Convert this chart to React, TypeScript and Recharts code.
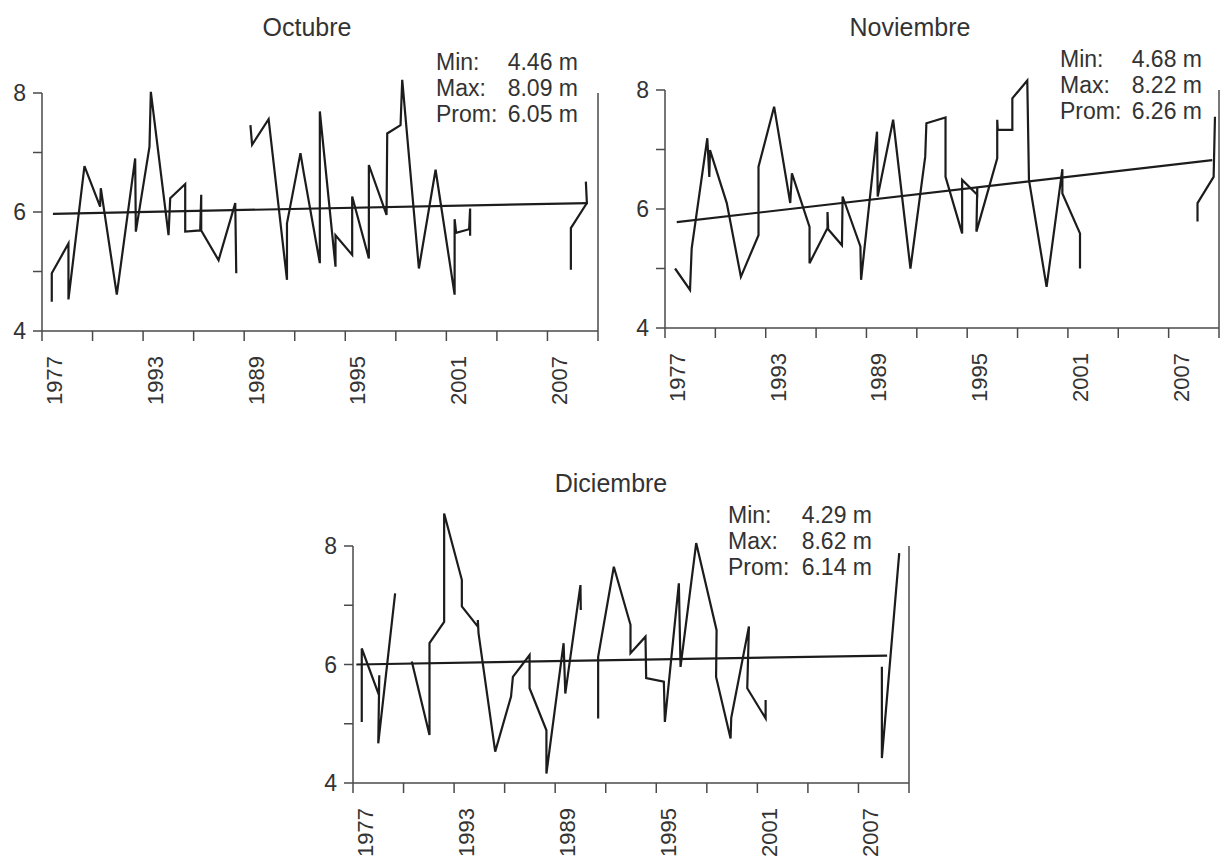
import { Line, LineChart, ReferenceLine, XAxis, YAxis } from "recharts";

const INK = "#1c1c1c";
const AXIS = "#4a4a4a";
const TEXT = "#333";
const FONT = "'Liberation Sans', Arial, Helvetica, sans-serif";

// x axis: one tick every 3 years, label every 6 (labels copied as printed)
const X_TICKS = [1977, 1980, 1983, 1986, 1989, 1992, 1995, 1998, 2001, 2004, 2007, 2010];
const X_LABEL_AT = [1977, 1983, 1989, 1995, 2001, 2007];
const X_LABELS = ["1977", "1993", "1989", "1995", "2001", "2007"];
const Y_TICKS = [4, 5, 6, 7, 8];

// [year, level m]; null = gap in record
const OCT_POINTS: [number, number | null][] = [
  [1977.58, 4.49], [1977.58, 4.97], [1978.57, 5.47], [1978.57, 4.53], [1979.52, 6.77], [1980.45, 6.09],
  [1980.49, 6.4], [1981.44, 4.61], [1982.53, 6.9], [1982.57, 5.67], [1983.38, 7.1], [1983.46, 8.02],
  [1984.51, 5.61], [1984.61, 6.23], [1985.5, 6.47], [1985.5, 5.67], [1986.39, 5.69], [1986.45, 6.29],
  [1986.45, 5.69], [1987.48, 5.19], [1988.47, 6.15], [1988.53, 4.97], [1989.0, null],
  [1989.37, 7.46], [1989.47, 7.13], [1990.45, 7.56], [1991.54, 4.86], [1991.54, 5.81], [1992.34, 6.99],
  [1992.54, 6.65], [1993.49, 5.14], [1993.49, 7.69], [1994.42, 5.08], [1994.42, 5.61], [1995.41, 5.28],
  [1995.41, 6.26], [1996.4, 5.22], [1996.4, 6.79], [1997.45, 5.95], [1997.49, 7.32], [1998.28, 7.46],
  [1998.38, 8.22], [1999.37, 5.05], [2000.36, 6.71], [2001.49, 4.61], [2001.49, 5.88], [2001.58, 5.65],
  [2002.35, 5.71], [2002.41, 6.06], [2002.41, 5.6], [2005.0, null],
  [2008.39, 5.03], [2008.39, 5.73], [2009.34, 6.15], [2009.28, 6.51],
];
const OCT_TREND: [number, number][] = [[1977.65, 5.97], [2009.4, 6.15]];
const OCT_STATS = ["4.46 m", "8.09 m", "6.05 m"];

const NOV_POINTS: [number, number | null][] = [
  [1977.6, 5.0], [1978.49, 4.64], [1978.59, 5.34], [1979.52, 7.19], [1979.64, 6.54], [1979.68, 6.99],
  [1980.68, 6.1], [1981.52, 4.86], [1982.57, 5.56], [1982.57, 6.71], [1983.5, 7.72], [1984.46, 6.1],
  [1984.56, 6.6], [1985.61, 5.7], [1985.61, 5.09], [1986.68, 5.68], [1986.68, 5.95], [1986.72, 5.66],
  [1987.54, 5.39], [1987.58, 6.21], [1988.64, 5.37], [1988.68, 4.81], [1989.63, 7.3], [1989.67, 6.21],
  [1990.59, 7.5], [1991.62, 5.0], [1992.5, 6.88], [1992.57, 7.44], [1993.71, 7.54], [1993.71, 6.54],
  [1994.7, 5.59], [1994.7, 6.49], [1995.6, 6.24], [1995.6, 6.36], [1995.55, 5.62], [1996.79, 6.85],
  [1996.79, 7.5], [1996.82, 7.33], [1997.69, 7.33], [1997.69, 7.86], [1998.58, 8.16], [1998.68, 6.49],
  [1999.73, 4.69], [2000.67, 6.67], [2000.67, 6.26], [2001.72, 5.59], [2001.72, 5.0], [2005.0, null],
  [2008.72, 5.79], [2008.72, 6.1], [2009.68, 6.54], [2009.76, 7.55],
];
const NOV_TREND: [number, number][] = [[1977.7, 5.78], [2009.6, 6.82]];
const NOV_STATS = ["4.68 m", "8.22 m", "6.26 m"];

const DEC_POINTS: [number, number | null][] = [
  [1977.52, 5.03], [1977.52, 6.27], [1978.53, 5.49], [1978.56, 5.82], [1978.5, 4.67], [1979.5, 7.2],
  [1980.0, null],
  [1980.49, 6.05], [1981.54, 4.81], [1981.54, 6.36], [1982.41, 6.72], [1982.41, 8.55], [1983.46, 7.43],
  [1983.46, 6.98], [1984.41, 6.64], [1984.41, 6.75], [1984.45, 6.53], [1985.44, 4.53], [1986.38, 5.46],
  [1986.49, 5.79], [1987.48, 6.16], [1987.48, 5.6], [1988.48, 4.89], [1988.48, 4.16], [1989.5, 6.36],
  [1989.6, 5.51], [1990.5, 7.34], [1990.52, 6.92], [1991.0, null],
  [1991.55, 5.09], [1991.55, 6.13], [1992.48, 7.65], [1993.47, 6.67], [1993.47, 6.19], [1994.36, 6.47],
  [1994.4, 5.77], [1995.45, 5.71], [1995.51, 5.03], [1996.34, 7.37], [1996.44, 5.96], [1997.37, 8.05],
  [1998.58, 6.58], [1998.55, 5.79], [1999.41, 4.75], [1999.45, 5.1], [2000.5, 6.64], [2000.4, 5.6],
  [2001.49, 5.09], [2001.49, 5.4], [2005.0, null],
  [2008.39, 5.96], [2008.39, 4.42], [2009.42, 7.88],
];
const DEC_TREND: [number, number][] = [[1977.2, 6.0], [2008.7, 6.15]];
const DEC_STATS = ["4.29 m", "8.62 m", "6.14 m"];

const STAT_NAMES = ["Min:", "Max:", "Prom:"];

type Box = { x0: number; x1: number; y8: number; y4: number; titleX: number; titleY: number; statL: number; statR: number };

const YearTick = (props: any) => {
  const { x, y, payload } = props;
  const i = X_LABEL_AT.indexOf(payload.value);
  if (i < 0) return <g />;
  const tx = x + 20;
  const ty = y + 13;
  return (
    <text x={tx} y={ty} transform={`rotate(-90 ${tx} ${ty})`} textAnchor="end" fontSize={22} fill={TEXT} fontFamily={FONT}>
      {X_LABELS[i]}
    </text>
  );
};

function Panel({ title, points, trend, stats, box }: { title: string; points: [number, number | null][]; trend: [number, number][]; stats: string[]; box: Box }) {
  const unit = (box.y4 - box.y8) / 4;
  const left = box.x0 - 42;
  const top = box.y8 - 60;
  const width = box.x1 - box.x0 + 46;
  const height = box.y4 - box.y8 + 160;
  const data = points.map(([x, v]) => ({ x, v }));
  const trendData = trend.map(([x, t]) => ({ x, t }));
  const axisLine = { stroke: AXIS, strokeWidth: 1.5 };

  return (
    <>
      <div style={{ position: "absolute", left, top, width, height }}>
        <LineChart width={width} height={height} data={data} margin={{ top: 60 - 0.8 * unit, right: 3, bottom: 40, left: 12 }}>
          <XAxis type="number" dataKey="x" domain={[1977, 2010]} ticks={X_TICKS} interval={0} height={60}
            axisLine={axisLine} tickLine={axisLine} tickSize={10} tick={<YearTick />} />
          <YAxis yAxisId="l" type="number" domain={[4, 8.8]} ticks={Y_TICKS} interval={0} width={30}
            axisLine={false} tickLine={axisLine} tickSize={9} tickMargin={7}
            tickFormatter={(v: number) => (v % 2 === 0 ? String(v) : "")}
            tick={{ fontSize: 23, fill: TEXT, fontFamily: FONT }} />
          <YAxis yAxisId="r" orientation="right" type="number" domain={[4, 8.8]} ticks={Y_TICKS} interval={0} width={1}
            mirror axisLine={false} tickLine={axisLine} tickSize={9} tickFormatter={() => ""} />
          <ReferenceLine yAxisId="l" segment={[{ x: 1977, y: 4 }, { x: 1977, y: 8 }]} stroke={AXIS} strokeWidth={1.5} />
          <ReferenceLine yAxisId="l" segment={[{ x: 2010, y: 4 }, { x: 2010, y: 8 }]} stroke={AXIS} strokeWidth={1.5} />
          <Line yAxisId="l" type="linear" dataKey="v" stroke={INK} strokeWidth={2.2} dot={false} connectNulls={false} isAnimationActive={false} />
          <Line yAxisId="l" data={trendData} type="linear" dataKey="t" stroke={INK} strokeWidth={2.2} dot={false} isAnimationActive={false} />
        </LineChart>
      </div>
      <div style={{ position: "absolute", left: box.titleX - 100, width: 200, top: box.titleY - 15, textAlign: "center", fontSize: 25, fontFamily: FONT, color: TEXT, lineHeight: "30px" }}>
        {title}
      </div>
      {STAT_NAMES.map((name, i) => (
        <div key={name} style={{ position: "absolute", left: box.statL, width: box.statR - box.statL, top: box.y8 - 44 + i * 26, fontSize: 23, fontFamily: FONT, color: TEXT, lineHeight: "26px", whiteSpace: "nowrap" }}>
          <span style={{ position: "absolute", left: 0 }}>{name}</span>
          <span style={{ position: "absolute", right: 0 }}>{stats[i]}</span>
        </div>
      ))}
    </>
  );
}

const OCT_BOX: Box = { x0: 42, x1: 597, y8: 93, y4: 331, titleX: 307, titleY: 27, statL: 436, statR: 578 };
const NOV_BOX: Box = { x0: 665, x1: 1218, y8: 90, y4: 328, titleX: 910, titleY: 27, statL: 1060, statR: 1202 };
const DEC_BOX: Box = { x0: 353, x1: 908, y8: 546, y4: 783, titleX: 611, titleY: 483, statL: 728, statR: 872 };

export default function App() {
  return (
    <div style={{ position: "absolute", left: 0, top: 0, width: 1221, height: 858, overflow: "hidden", background: "#fff" }}>
      <Panel title="Octubre" points={OCT_POINTS} trend={OCT_TREND} stats={OCT_STATS} box={OCT_BOX} />
      <Panel title="Noviembre" points={NOV_POINTS} trend={NOV_TREND} stats={NOV_STATS} box={NOV_BOX} />
      <Panel title="Diciembre" points={DEC_POINTS} trend={DEC_TREND} stats={DEC_STATS} box={DEC_BOX} />
    </div>
  );
}
